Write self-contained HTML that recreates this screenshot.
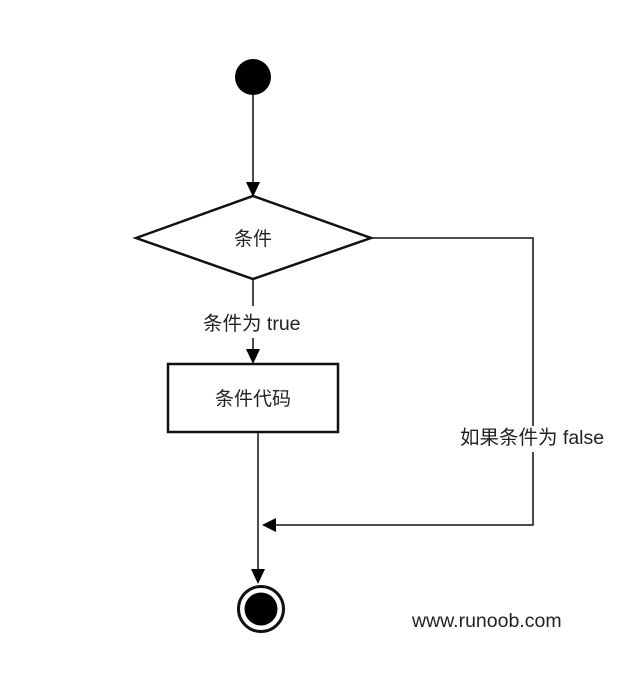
<!DOCTYPE html>
<html><head><meta charset="utf-8"><style>
body{margin:0;background:#fff;}
svg text{font-family:"Liberation Sans","Noto Sans CJK SC",sans-serif;fill:#222;}
</style></head><body>
<svg width="640" height="686" viewBox="0 0 640 686" xmlns="http://www.w3.org/2000/svg">
<rect width="640" height="686" fill="#fff"/>
<g stroke="#111" fill="none">
<circle cx="253" cy="77" r="18" fill="#000" stroke="none"/>
<line x1="253" y1="95" x2="253" y2="186" stroke-width="1.5"/>
<polygon points="136,238 253,196 371,238 253,279" stroke-width="2.5" fill="#fff"/>
<line x1="253" y1="279" x2="253" y2="306" stroke-width="1.5"/>
<line x1="253" y1="338" x2="253" y2="356" stroke-width="1.5"/>
<rect x="168" y="364" width="170" height="68" stroke-width="2.5" fill="#fff"/>
<line x1="258" y1="432" x2="258" y2="574" stroke-width="1.5"/>
<polyline points="371,238 533,238 533,426" stroke-width="1.5"/>
<polyline points="533,452 533,525 272,525" stroke-width="1.5"/>
<circle cx="261" cy="609" r="22.5" stroke-width="3"/>
<circle cx="261" cy="609" r="16.5" fill="#000" stroke="none"/>
</g>
<g fill="#000">
<polygon points="246,182 260,182 253,197"/>
<polygon points="246,349 260,349 253,364"/>
<polygon points="251,569 265,569 258,584"/>
<polygon points="276,518 276,532 262,525"/>
</g>
<text x="253" y="245" font-size="19" text-anchor="middle">条件</text>
<text x="203" y="330" font-size="19.5">条件为 true</text>
<text x="253" y="405" font-size="19" text-anchor="middle">条件代码</text>
<text x="460" y="444" font-size="19.5">如果条件为 false</text>
<text x="412" y="627" font-size="19.5">www.runoob.com</text>
</svg>
</body></html>
